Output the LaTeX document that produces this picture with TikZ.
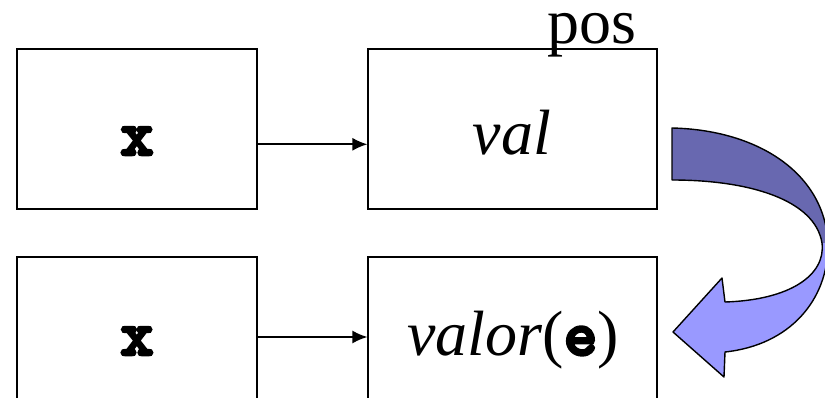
\documentclass[tikz,border=0pt]{standalone}
\usepackage{fontspec}
\setmainfont{Liberation Serif}
\newfontfamily\courbf{lmmonolt10-bold.otf}[FakeBold=4]
\usetikzlibrary{arrows.meta}
\definecolor{arrdark}{RGB}{104,104,176}
\definecolor{arrlight}{RGB}{153,153,255}
\begin{document}
\begin{tikzpicture}[x=1pt,y=-1pt,
  box/.style={draw, line width=1.8pt, minimum height=160pt, inner sep=0pt},
  bigtxt/.style={font=\fontsize{64}{70}\selectfont, inner sep=0pt, anchor=base},
  link/.style={line width=1.6pt, -{Latex[length=15pt,width=13pt]}},
  outline/.style={draw=black, line width=1.4pt, line join=round}]
\useasboundingbox (0,0) rectangle (825,398);
\clip (0,0) rectangle (825,398);
% boxes
\node[box, minimum width=240pt] (x1) at (137,129) {};
\node[box, minimum width=288.4pt] (v1) at (512.5,129) {};
\node[box, minimum width=240pt] (x2) at (137,337) {};
\node[box, minimum width=288.4pt] (v2) at (512.5,337) {};
% texts
\node[bigtxt] (tx1) at (137,155) {\courbf x};
\node[bigtxt] (tv1) at (512,155) {\itshape val};
\node[bigtxt] (tx2) at (137,355) {\courbf x};
\node[bigtxt] (tv2) at (513,355) {\textit{valor}({\courbf e})};
\node[bigtxt] (pos) at (592,44) {pos};
% connectors
\draw[link] ([yshift=-15.3pt]x1.east) -- ([yshift=-15.3pt]v1.west);
\draw[link] (x2.east) -- (v2.west);
% curved arrow
\path[save path=\arrpath] (672,128) .. controls (760,130) and (826,175) .. (828,245)
  .. controls (828,300) and (790,345) .. (725,352) -- (724,377) -- (673,332)
  -- (722,278) -- (725,302) .. controls (790,300) and (826,275) .. (822,243)
  .. controls (815,200) and (750,180) .. (672,180) -- cycle;
\fill[arrlight, use path=\arrpath];
\begin{scope}
  \clip (600,0) rectangle (900,243);
  \fill[arrdark, use path=\arrpath];
\end{scope}
\path[outline, use path=\arrpath];
\end{tikzpicture}
\end{document}
